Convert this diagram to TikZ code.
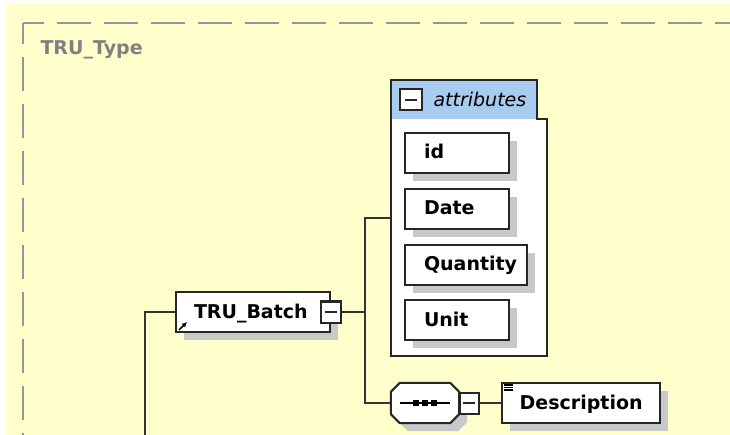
\documentclass[tikz,border=0pt]{standalone}
\usepackage{fontspec}
\setmainfont{DejaVu Sans}
\usetikzlibrary{positioning, shadows, arrows.meta}

\definecolor{paper}{RGB}{255,255,204}
\definecolor{framegray}{RGB}{150,150,150}
\definecolor{typegray}{RGB}{128,128,128}
\definecolor{headblue}{RGB}{168,204,240}
\definecolor{shadowgray}{RGB}{200,200,200}

\begin{document}
\begin{tikzpicture}[x=1pt, y=-1pt,
    font=\fontsize{19}{22}\selectfont\bfseries,
    boxline/.style={draw=black!85, line width=2pt},
    link/.style={draw=black!80, line width=2pt},
    dropsh/.style={drop shadow={shadow xshift=8pt, shadow yshift=-8pt, fill=shadowgray, opacity=1}},
    elem/.style={boxline, fill=white, dropsh, minimum height=40pt, text height=15pt, text depth=3pt,
      inner ysep=0pt, inner xsep=18pt, align=left, anchor=north west},
    item/.style={elem, inner xsep=19pt, text width=66pt},
    minusbox/.style={boxline, fill=white, inner sep=0pt, minimum width=20pt, minimum height=21pt,
      path picture={\draw[line width=2pt] ([xshift=-6pt]path picture bounding box.center)
        -- ([xshift=6pt]path picture bounding box.center);}},
  ]
  \useasboundingbox (0,0) rectangle (730,435);
  \fill[white] (0,0) rectangle (730,435);
  \fill[paper] (6,4) rectangle (730,435);

  % complex type frame
  \draw[framegray, line width=2pt, dash pattern=on 34pt off 13pt, dash phase=13pt]
    (23,23) -- (760,23) (23,23) -- (23,460);
  \node[anchor=west, text=typegray] (typename) at (37,50) {TRU\_Type};

  % element
  \node[elem, text width=118pt] (batch) at (175,291) {TRU\_Batch};
  \node[minusbox] (bm) at (batch.east) {};
  \draw[-{Latex[length=5pt,width=5pt]}, line width=1.6pt]
    ([shift={(4pt,3pt)}]batch.south west) -- ++(8pt,8pt);

  % attributes
  \node[minimum width=156pt, minimum height=276pt, inner sep=0pt, anchor=north west] (attr) at (391,80) {};
  \node[fill=headblue, minimum width=146pt, minimum height=39pt, inner sep=0pt, anchor=north west]
    (attrhead) at (attr.north west) {};
  \fill[white] (attrhead.south west) rectangle (attr.south east);
  \draw[boxline] (attr.north west) -- (attrhead.north east) -- (attrhead.south east)
    -- (attrhead.south east -| attr.east) -- (attr.south east) -- (attr.south west) -- cycle;
  \node[minusbox, minimum width=22pt] (hm) at ([xshift=20pt]attrhead.west) {};
  \node[anchor=west, font=\fontsize{19}{22}\selectfont\itshape] (attrtext) at ([xshift=7pt]hm.east) {attributes};

  \node[item] (id) at (404,132) {id};
  \node[item, below=14pt of id.south west, anchor=north west] (date) {Date};
  \node[item, text width=84pt, below=14pt of date.south west, anchor=north west] (qty) {Quantity};
  \node[item, below=13pt of qty.south west, anchor=north west] (unit) {Unit};

  % sequence
  \node[minimum width=68pt, minimum height=40pt, inner sep=0pt] (seq) at (425,403) {};
  \draw[boxline, fill=white, dropsh] ([xshift=9pt]seq.north west) -- ([xshift=-9pt]seq.north east)
    -- ([yshift=-9pt]seq.north east) -- ([yshift=9pt]seq.south east) -- ([xshift=-9pt]seq.south east)
    -- ([xshift=9pt]seq.south west) -- ([yshift=9pt]seq.south west) -- ([yshift=-9pt]seq.north west) -- cycle;
  \draw[line width=1.4pt] ([xshift=-25pt]seq.center) -- ([xshift=25pt]seq.center);
  \foreach \dx in {-9,0,9}
    \fill ([xshift=\dx pt]seq.center) +(-2.7pt,-2.7pt) rectangle +(2.7pt,2.7pt);
  \node[minusbox, minimum width=19pt, anchor=west] (sm) at ([xshift=-0.5pt]seq.east) {};

  \node[elem, text width=122pt, right=21pt of sm] (desc) {Description};
  \foreach \d in {3,5.5,8}
    \draw[line width=1.2pt] ([xshift=3pt, yshift=-\d pt]desc.north west) -- ++(9pt,0);

  % connectors
  \coordinate (fork) at ([xshift=23pt]bm.east);
  \coordinate (down) at (145,445);
  \draw[link] (down) |- (batch.west);
  \draw[link] (bm.east) -- (fork);
  \draw[link] (attr.west) -| (fork) |- (seq.west);
  \draw[link] (sm.east) -- (desc.west);
\end{tikzpicture}
\end{document}
